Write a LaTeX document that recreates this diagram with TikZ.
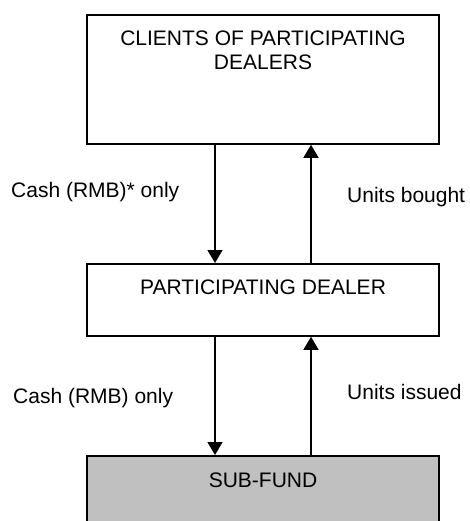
\documentclass[tikz,border=0pt]{standalone}
\usepackage{fontspec}
\setmainfont{Liberation Sans}
\usetikzlibrary{arrows.meta}
\begin{document}
\begin{tikzpicture}[x=1pt,y=-1pt,
  box/.style={draw=black,line width=1.8pt,minimum width=352pt,inner sep=0pt,anchor=north},
  txt/.style={inner sep=0pt,font=\fontsize{21}{23.5}\selectfont,align=center},
  lbl/.style={inner sep=0pt,anchor=west,font=\fontsize{21}{23.5}\selectfont},
  arr/.style={line width=1.5pt,-{Triangle[width=15pt,length=13pt]}}]
\useasboundingbox (0,0) rectangle (469,521);
\clip (0,0) rectangle (469,521);
\node[box,minimum height=129pt] (top) at (263,14) {};
\node[box,minimum height=72pt] (mid) at (263,263) {};
\node[box,minimum height=90pt,fill={rgb,255:red,192;green,192;blue,192}] (sub) at (263,455) {};
\node[txt] (toptext) at (263,50.5) {CLIENTS OF PARTICIPATING\\DEALERS};
\node[txt] (midtext) at (263,287) {PARTICIPATING DEALER};
\node[txt] (subtext) at (263,480) {SUB-FUND};
\coordinate (xl) at (215,0);
\coordinate (xr) at (311,0);
\draw[arr] (top.south -| xl) -- (mid.north -| xl);
\draw[arr] (mid.north -| xr) -- (top.south -| xr);
\draw[arr] (mid.south -| xl) -- (sub.north -| xl);
\draw[arr] (sub.north -| xr) -- (mid.south -| xr);
\node[lbl] (l1) at (11,192) {Cash (RMB)* only};
\node[lbl] (l2) at (347,197) {Units bought};
\node[lbl] (l3) at (13,398) {Cash (RMB) only};
\node[lbl] (l4) at (347,392) {Units issued};
\end{tikzpicture}
\end{document}
